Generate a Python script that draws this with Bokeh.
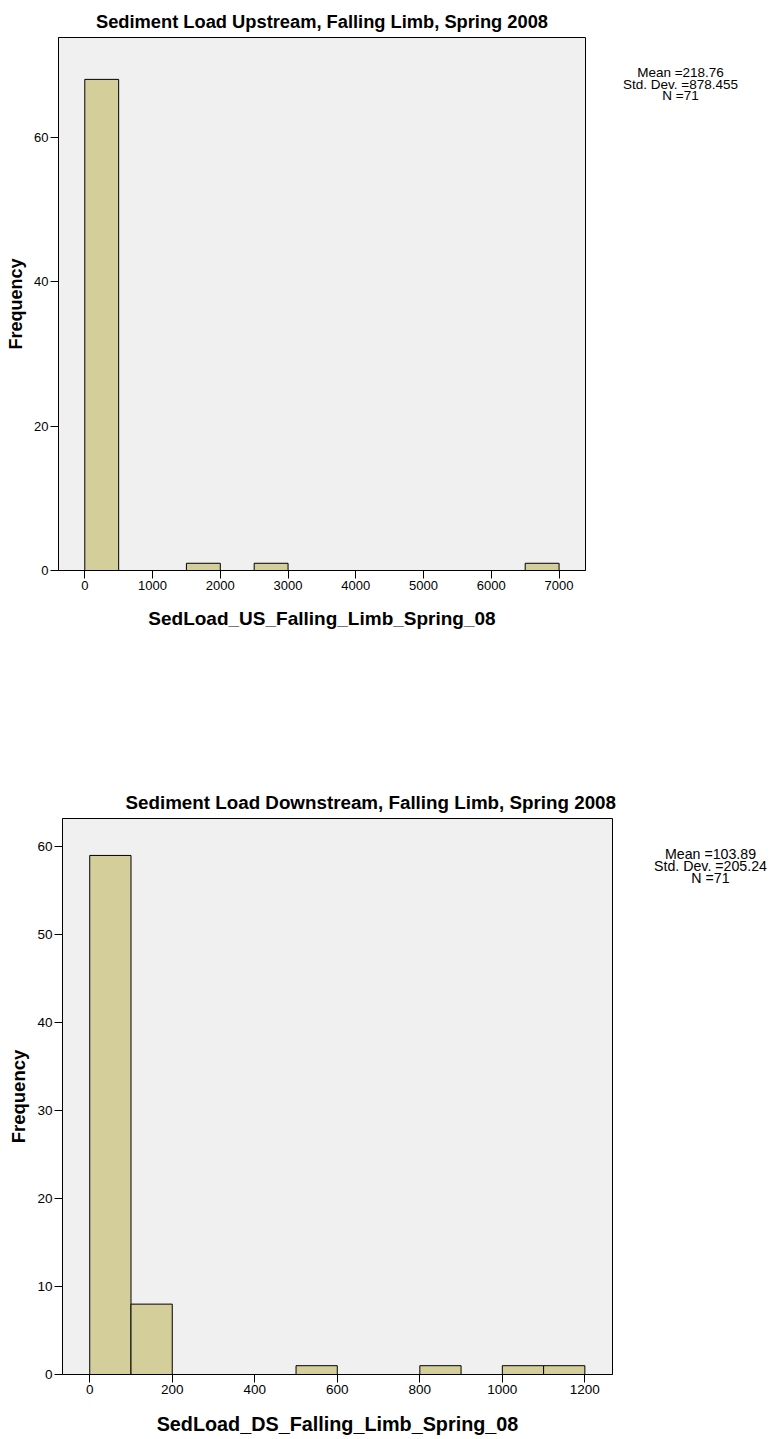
from bokeh.plotting import figure
from bokeh.models import Range1d, FixedTicker, ColumnDataSource
from bokeh.core.properties import value
from bokeh.layouts import row
from bokeh.embed import file_html
from bokeh.resources import INLINE

FONT = "Liberation Sans"
BAR_FILL = "#D4CF9A"
PLOT_BG = "#F0F0F0"

# ---- Upstream histogram (bins with non-zero counts) ----
us_title = "Sediment Load Upstream, Falling Limb, Spring 2008"
us_xlabel = "SedLoad_US_Falling_Limb_Spring_08"
us_bin_lo = [0, 1500, 2500, 6500]
us_bin_hi = [500, 2000, 3000, 7000]
us_freq = [68, 1, 1, 1]
us_xticks = [0, 1000, 2000, 3000, 4000, 5000, 6000, 7000]
us_yticks = [0, 20, 40, 60]
us_stats = ["Mean =218.76", "Std. Dev. =878.455", "N =71"]

# ---- Downstream histogram ----
ds_title = "Sediment Load Downstream, Falling Limb, Spring 2008"
ds_xlabel = "SedLoad_DS_Falling_Limb_Spring_08"
ds_bin_lo = [0, 100, 500, 800, 1000, 1100]
ds_bin_hi = [100, 200, 600, 900, 1100, 1200]
ds_freq = [59, 8, 1, 1, 1, 1]
ds_xticks = [0, 200, 400, 600, 800, 1000, 1200]
ds_yticks = [0, 10, 20, 30, 40, 50, 60]
ds_stats = ["Mean =103.89", "Std. Dev. =205.24", "N =71"]

ylabel = "Frequency"


def make_hist(title, xlabel, lo, hi, freq, xticks, yticks,
              width, height, left, right, top, bottom, xr, yr,
              title_align, title_offset, fs):
    p = figure(width=width, height=height, output_backend="svg",
               toolbar_location=None, title=title,
               x_range=Range1d(*xr), y_range=Range1d(*yr),
               min_border_left=left, min_border_right=right,
               min_border_top=top, min_border_bottom=bottom)
    p.background_fill_color = PLOT_BG
    p.border_fill_color = "white"
    p.outline_line_color = "black"
    p.outline_line_width = 1
    p.grid.visible = False

    p.title.align = title_align
    p.title.offset = title_offset
    p.title.vertical_align = "bottom"
    p.title.standoff = 12
    p.title.text_font = FONT
    p.title.text_font_size = f"{fs['title']}px"
    p.title.text_font_style = "bold"
    p.title.text_color = "black"

    src = ColumnDataSource(dict(lo=lo, hi=hi, freq=freq))
    p.quad(left="lo", right="hi", bottom=0, top="freq", source=src,
           fill_color=BAR_FILL, line_color="black", line_width=1)

    for ax in (p.xaxis[0], p.yaxis[0]):
        ax.axis_line_color = "black"
        ax.axis_line_width = 1
        ax.major_tick_line_color = "black"
        ax.major_tick_line_width = 1
        ax.major_tick_in = 0
        ax.major_tick_out = 8
        ax.minor_tick_line_color = None
        ax.major_label_text_font = FONT
        ax.major_label_text_font_size = f"{fs['tick']}px"
        ax.major_label_text_color = "black"
        ax.axis_label_text_font = FONT
        ax.axis_label_text_font_style = "bold"
        ax.axis_label_text_color = "black"
        ax.major_label_standoff = 2

    p.xaxis.ticker = FixedTicker(ticks=xticks)
    p.yaxis.ticker = FixedTicker(ticks=yticks)
    p.xaxis.axis_label = xlabel
    p.yaxis.axis_label = ylabel
    p.xaxis.axis_label_text_font_size = f"{fs['xlabel']}px"
    p.yaxis.axis_label_text_font_size = f"{fs['ylabel']}px"
    p.xaxis.axis_label_standoff = fs["xlabel_standoff"]
    p.yaxis.axis_label_standoff = 5
    return p


def make_stats(lines, width, height, top, bottom, cx, first_y, step, size):
    # Summary statistics beside the histogram; ranges are in pixels
    # measured from the top-left of this panel's frame.
    fh = height - top - bottom
    s = figure(width=width, height=height, output_backend="svg",
               toolbar_location=None,
               x_range=Range1d(0, width), y_range=Range1d(fh, 0),
               min_border_left=0, min_border_right=0,
               min_border_top=top, min_border_bottom=bottom)
    s.axis.visible = False
    s.grid.visible = False
    s.outline_line_color = None
    s.background_fill_color = "white"
    s.border_fill_color = "white"
    ys = [first_y + i * step for i in range(len(lines))]
    s.text(x=[cx] * len(lines), y=ys, text=lines,
           text_font=value(FONT), text_font_size=f"{size}px",
           text_color="black", text_align="center", text_baseline="middle")
    return s


us_fonts = dict(title=18.3, tick=13, xlabel=19, ylabel=18, xlabel_standoff=15)
ds_fonts = dict(title=18.8, tick=13.5, xlabel=19.8, ylabel=18.5, xlabel_standoff=16)

p_us = make_hist(us_title, us_xlabel, us_bin_lo, us_bin_hi, us_freq,
                 us_xticks, us_yticks,
                 width=605, height=700, left=58, right=20, top=37, bottom=130,
                 xr=(-388, 7390), yr=(0, 73.8),
                 title_align="center", title_offset=0, fs=us_fonts)
s_us = make_stats(us_stats, width=167, height=700, top=37, bottom=130,
                  cx=75, first_y=35.3, step=11.5, size=13.5)

p_ds = make_hist(ds_title, ds_xlabel, ds_bin_lo, ds_bin_hi, ds_freq,
                 ds_xticks, ds_yticks,
                 width=632, height=739, left=62, right=20, top=118, bottom=65,
                 xr=(-66, 1267), yr=(0, 63.2),
                 title_align="left", title_offset=63, fs=ds_fonts)
s_ds = make_stats(ds_stats, width=140, height=739, top=118, bottom=65,
                  cx=78, first_y=35, step=12, size=14.2)

upstream = row(p_us, s_us, spacing=0)
downstream = row(p_ds, s_ds, spacing=0)

open("out.html", "w").write(file_html([upstream, downstream], INLINE))
